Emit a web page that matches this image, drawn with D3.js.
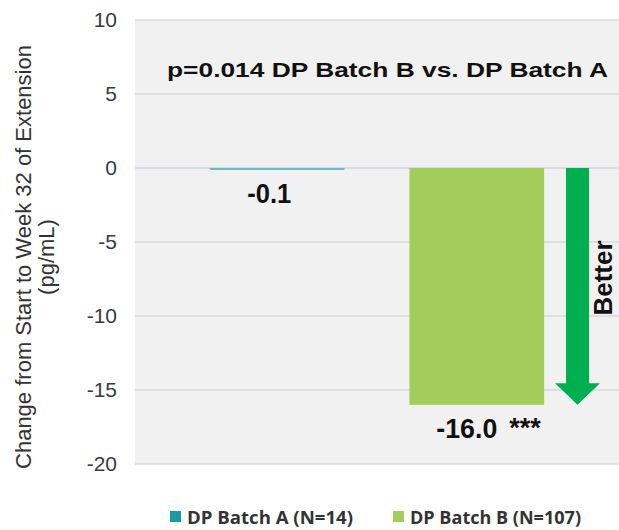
<!DOCTYPE html>
<html><head><meta charset="utf-8">
<script src="https://cdn.jsdelivr.net/npm/d3@7"></script>
<style>body{margin:0;background:#fff}svg{display:block}</style>
</head><body>
<script>
const categories = ["DP Batch A (N=14)", "DP Batch B (N=107)"];
const values = [-0.1, -16.0];
const valueLabels = ["-0.1", "-16.0"];
const significance = ["", "***"];
const yTicks = [10, 5, 0, -5, -10, -15, -20];
const colors = ["#6bb9cc", "#a2cd5a"];
const legendColors = ["#1a9ba3", "#a2cd5a"];
const annotation = "p=0.014 DP Batch B vs. DP Batch A";

const W = 619, H = 530;
const FONT = "Arial, 'Liberation Sans', sans-serif";
const svg = d3.select("body").append("svg").attr("width", W).attr("height", H);
const pLeft = 135, pRight = 619, pTop = 20, pBottom = 464;

const y = d3.scaleLinear().domain([-20, 10]).range([pBottom, pTop]);
const x = d3.scaleBand().domain(categories).range([pLeft, pRight]).paddingInner(0.325).paddingOuter(0.375);

svg.append("rect").attr("x", pLeft).attr("y", pTop).attr("width", pRight - pLeft).attr("height", pBottom - pTop).attr("fill", "#f1f1f1");

// grid
svg.append("g").selectAll("line").data(yTicks).join("line")
  .attr("x1", pLeft).attr("x2", pRight)
  .attr("y1", d => y(d)).attr("y2", d => y(d))
  .attr("stroke", d => d === 0 ? "#c8d5e3" : "#d9d9d9").attr("stroke-width", 1.5);

const axis = d3.axisLeft(y).tickValues(yTicks).tickSize(0).tickPadding(0).tickFormat(d => String(d));
const ag = svg.append("g").attr("transform", `translate(117,0)`).call(axis);
ag.select(".domain").remove();
ag.selectAll("text").attr("font-family", FONT).attr("font-size", 21).attr("fill", "#353a45");

// y title
const yt = svg.append("text").attr("transform", "translate(31,257) rotate(-90)")
  .attr("text-anchor", "middle").attr("font-family", FONT).attr("font-size", 22).attr("fill", "#333");
yt.append("tspan").attr("x", 0).attr("dy", 0).text("Change from Start to Week 32 of Extension");
yt.append("tspan").attr("x", 0).attr("dy", 23).text("(pg/mL)");

// bars
svg.append("g").selectAll("rect").data(values).join("rect")
  .attr("x", (d, i) => x(categories[i]))
  .attr("width", x.bandwidth())
  .attr("y", y(0))
  .attr("height", d => Math.max(2, y(d) - y(0)))
  .attr("fill", (d, i) => colors[i]);

// value labels
const lblLen = [44, 61];
const lblX = [-8, -10];
svg.append("g").selectAll("text").data(values).join("text")
  .attr("x", (d, i) => x(categories[i]) + x.bandwidth() / 2 + lblX[i])
  .attr("y", d => Math.max(y(d), y(0) + 2) + 33)
  .attr("text-anchor", "middle")
  .attr("font-family", FONT).attr("font-weight", "bold").attr("font-size", 27).attr("fill", "#111")
  .attr("textLength", (d, i) => lblLen[i]).attr("lengthAdjust", "spacingAndGlyphs")
  .text((d, i) => valueLabels[i]);
svg.append("g").selectAll("text").data(values).join("text")
  .attr("x", (d, i) => x(categories[i]) + x.bandwidth() / 2 + lblX[i] + lblLen[i] / 2 + 12)
  .attr("y", d => Math.max(y(d), y(0) + 2) + 32)
  .attr("font-family", FONT).attr("font-weight", "bold").attr("font-size", 27).attr("fill", "#111")
  .text((d, i) => significance[i]);

// annotation
svg.append("text").attr("x", 387.5).attr("y", 77).attr("text-anchor", "middle")
  .attr("font-family", FONT).attr("font-weight", "bold").attr("font-size", 21).attr("fill", "#111")
  .attr("textLength", 441).attr("lengthAdjust", "spacingAndGlyphs")
  .text(annotation);

// arrow
const ax = 577.5, shaftW = 23, headW = 45;
const ay0 = y(0), ayHead = y(-14.55), ayTip = y(-16.0);
svg.append("path")
  .attr("d", `M${ax - shaftW / 2},${ay0} L${ax + shaftW / 2},${ay0} L${ax + shaftW / 2},${ayHead} L${ax + headW / 2},${ayHead} L${ax},${ayTip} L${ax - headW / 2},${ayHead} L${ax - shaftW / 2},${ayHead} Z`)
  .attr("fill", "#00b050");
svg.append("text").attr("transform", `translate(612,278) rotate(-90)`).attr("text-anchor", "middle")
  .attr("font-family", FONT).attr("font-weight", "bold").attr("font-size", 26).attr("fill", "#111")
  .text("Better");

// legend
const legX = [170, 393];
const legLen = [166, 171];
const lg = svg.append("g").selectAll("g").data(categories).join("g")
  .attr("transform", (d, i) => `translate(${legX[i]},517)`);
lg.append("rect").attr("x", 0).attr("y", -6).attr("width", 11).attr("height", 11).attr("fill", (d, i) => legendColors[i]);
lg.append("text").attr("x", 17).attr("y", 7).attr("font-family", "'Open Sans', Arial, sans-serif").attr("font-weight", "bold").attr("font-size", 18).attr("fill", "#333")
  .attr("textLength", (d, i) => legLen[i]).attr("lengthAdjust", "spacingAndGlyphs")
  .text(d => d);
</script>
</body></html>
